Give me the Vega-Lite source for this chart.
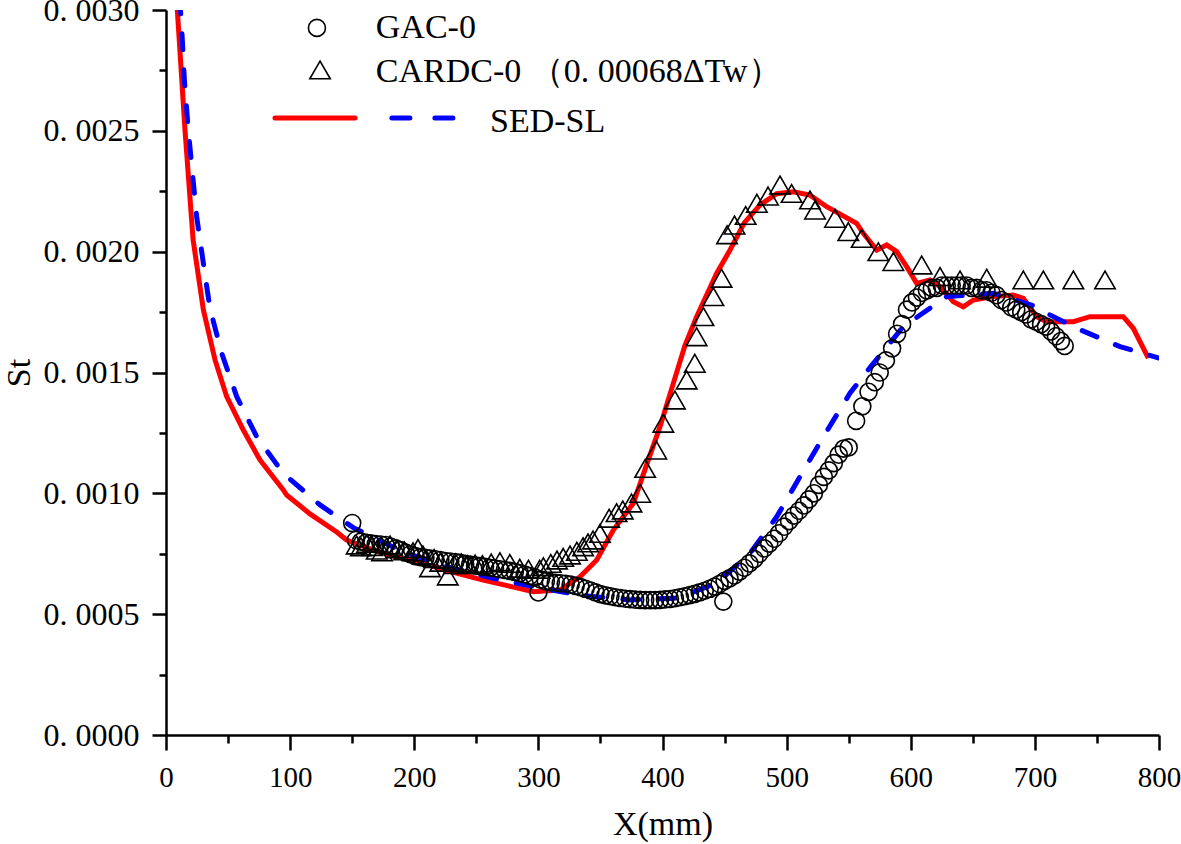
{
  "$schema": "https://vega.github.io/schema/vega-lite/v6.json",
  "width": 993,
  "height": 725,
  "autosize": "none",
  "padding": {"left": 166, "top": 10, "right": 22, "bottom": 109},
  "background": "white",
  "config": {"view": {"stroke": null}},
  "datasets": {
    "red": [
      {"x": 8.5, "y": 0.00305}, {"x": 15.3, "y": 0.002503}, {"x": 21.8, "y": 0.00205}, {"x": 30.1, "y": 0.001759},
      {"x": 39.5, "y": 0.001552}, {"x": 48.9, "y": 0.0014}, {"x": 62.3, "y": 0.001262}, {"x": 75.7, "y": 0.001138},
      {"x": 94.5, "y": 0.001014}, {"x": 97.2, "y": 0.000993}, {"x": 116, "y": 0.000915}, {"x": 137.5, "y": 0.00084},
      {"x": 145.5, "y": 0.000807}, {"x": 170, "y": 0.00076}, {"x": 202, "y": 0.000717}, {"x": 230, "y": 0.000675},
      {"x": 255.6, "y": 0.000641}, {"x": 280, "y": 0.000612}, {"x": 295.9, "y": 0.000593}, {"x": 317.4, "y": 0.0006},
      {"x": 333.5, "y": 0.000655}, {"x": 347, "y": 0.000724}, {"x": 360.4, "y": 0.000848}, {"x": 376.5, "y": 0.000959},
      {"x": 387.3, "y": 0.00112}, {"x": 398, "y": 0.001276}, {"x": 408.7, "y": 0.001455}, {"x": 418, "y": 0.00161},
      {"x": 427.5, "y": 0.001731}, {"x": 443.6, "y": 0.00191}, {"x": 454.4, "y": 0.002007}, {"x": 466, "y": 0.00212},
      {"x": 478.5, "y": 0.002193}, {"x": 492, "y": 0.00224}, {"x": 505.4, "y": 0.002248}, {"x": 518.8, "y": 0.002234},
      {"x": 532.3, "y": 0.002186}, {"x": 556.4, "y": 0.002117}, {"x": 561.8, "y": 0.002076}, {"x": 572.6, "y": 0.002007},
      {"x": 580.6, "y": 0.002028}, {"x": 588.7, "y": 0.002}, {"x": 596.7, "y": 0.001938}, {"x": 604.8, "y": 0.001869},
      {"x": 615.5, "y": 0.001883}, {"x": 623.6, "y": 0.001855}, {"x": 634.3, "y": 0.001793}, {"x": 642.3, "y": 0.001772},
      {"x": 650.4, "y": 0.0018}, {"x": 666.5, "y": 0.001814}, {"x": 682.6, "y": 0.001821}, {"x": 690.7, "y": 0.001807},
      {"x": 701.5, "y": 0.001731}, {"x": 709.5, "y": 0.00171}, {"x": 731, "y": 0.00171}, {"x": 744.4, "y": 0.001731},
      {"x": 771.2, "y": 0.001731}, {"x": 779.3, "y": 0.001683}, {"x": 791.4, "y": 0.001559}
    ],
    "blue": [
      {"x": 11, "y": 0.00305}, {"x": 12.6, "y": 0.00293}, {"x": 14.8, "y": 0.00271}, {"x": 18, "y": 0.0025},
      {"x": 24.7, "y": 0.002145}, {"x": 30.1, "y": 0.001952}, {"x": 35.4, "y": 0.001766}, {"x": 44.9, "y": 0.001579},
      {"x": 57, "y": 0.0014}, {"x": 73.1, "y": 0.001234}, {"x": 94.5, "y": 0.001083}, {"x": 124.1, "y": 0.000952},
      {"x": 150.9, "y": 0.000858}, {"x": 191.2, "y": 0.000758}, {"x": 226.1, "y": 0.000696}, {"x": 263.7, "y": 0.000648},
      {"x": 298.7, "y": 0.000611}, {"x": 336.2, "y": 0.000577}, {"x": 373.8, "y": 0.000559}, {"x": 411.4, "y": 0.000566},
      {"x": 443.6, "y": 0.000628}, {"x": 470.5, "y": 0.000752}, {"x": 492, "y": 0.000903}, {"x": 510.8, "y": 0.001069},
      {"x": 529.6, "y": 0.001234}, {"x": 551, "y": 0.001414}, {"x": 567.7, "y": 0.001524}, {"x": 594, "y": 0.00169},
      {"x": 629, "y": 0.001814}, {"x": 666.5, "y": 0.001828}, {"x": 701.5, "y": 0.001772}, {"x": 709.5, "y": 0.001745},
      {"x": 733.7, "y": 0.001683}, {"x": 768.6, "y": 0.001607}, {"x": 800, "y": 0.00156}
    ],
    "gac": [
      {"x": 150, "y": 0.000877}, {"x": 153, "y": 0.000807}, {"x": 157, "y": 0.0008}, {"x": 161, "y": 0.000795},
      {"x": 165, "y": 0.000793}, {"x": 169, "y": 0.00079}, {"x": 173, "y": 0.000788}, {"x": 177, "y": 0.000786},
      {"x": 181, "y": 0.00078}, {"x": 185, "y": 0.000772}, {"x": 189, "y": 0.000765}, {"x": 193, "y": 0.000755},
      {"x": 197, "y": 0.000748}, {"x": 201, "y": 0.00074}, {"x": 205, "y": 0.000736}, {"x": 209, "y": 0.000733},
      {"x": 213, "y": 0.00073}, {"x": 217, "y": 0.000727}, {"x": 221, "y": 0.000724}, {"x": 225, "y": 0.00072},
      {"x": 229, "y": 0.000718}, {"x": 233, "y": 0.000716}, {"x": 237, "y": 0.000712}, {"x": 241, "y": 0.000708},
      {"x": 245, "y": 0.000705}, {"x": 249, "y": 0.000702}, {"x": 253, "y": 0.000699}, {"x": 257, "y": 0.000696},
      {"x": 261, "y": 0.000692}, {"x": 265, "y": 0.000689}, {"x": 269, "y": 0.000686}, {"x": 273, "y": 0.000683},
      {"x": 277, "y": 0.000679}, {"x": 281, "y": 0.000675}, {"x": 285, "y": 0.00067}, {"x": 289, "y": 0.000664},
      {"x": 293, "y": 0.000658}, {"x": 297, "y": 0.000652}, {"x": 300, "y": 0.00059}, {"x": 302, "y": 0.000643},
      {"x": 306, "y": 0.000636}, {"x": 310, "y": 0.000632}, {"x": 314, "y": 0.00063}, {"x": 318, "y": 0.000628},
      {"x": 322, "y": 0.000626}, {"x": 326, "y": 0.000622}, {"x": 330, "y": 0.000617}, {"x": 334, "y": 0.000612},
      {"x": 338, "y": 0.000605}, {"x": 342, "y": 0.000598}, {"x": 346, "y": 0.00059}, {"x": 350, "y": 0.000583},
      {"x": 354, "y": 0.000578}, {"x": 358, "y": 0.000574}, {"x": 362, "y": 0.00057}, {"x": 366, "y": 0.000567},
      {"x": 370, "y": 0.000564}, {"x": 374, "y": 0.000562}, {"x": 378, "y": 0.00056}, {"x": 382, "y": 0.000559},
      {"x": 386, "y": 0.000558}, {"x": 390, "y": 0.000558}, {"x": 394, "y": 0.000558}, {"x": 398, "y": 0.000559},
      {"x": 402, "y": 0.000561}, {"x": 406, "y": 0.000563}, {"x": 410, "y": 0.000566}, {"x": 414, "y": 0.00057},
      {"x": 418, "y": 0.000574}, {"x": 422, "y": 0.000579}, {"x": 426, "y": 0.000584}, {"x": 430, "y": 0.00059},
      {"x": 434, "y": 0.000597}, {"x": 438, "y": 0.000605}, {"x": 442, "y": 0.000614}, {"x": 446, "y": 0.000625},
      {"x": 449, "y": 0.000552}, {"x": 450, "y": 0.000638}, {"x": 454, "y": 0.000648}, {"x": 458, "y": 0.00066},
      {"x": 462, "y": 0.000676}, {"x": 466, "y": 0.000692}, {"x": 470, "y": 0.00071}, {"x": 474, "y": 0.000728},
      {"x": 478, "y": 0.00075}, {"x": 482, "y": 0.000772}, {"x": 486, "y": 0.000792}, {"x": 490, "y": 0.000812},
      {"x": 494, "y": 0.000835}, {"x": 498, "y": 0.000862}, {"x": 502, "y": 0.000885}, {"x": 506, "y": 0.000908},
      {"x": 510, "y": 0.000928}, {"x": 514, "y": 0.00095}, {"x": 518, "y": 0.000975}, {"x": 522, "y": 0.001},
      {"x": 526, "y": 0.001035}, {"x": 530, "y": 0.001068}, {"x": 534, "y": 0.001095}, {"x": 538, "y": 0.001125},
      {"x": 542, "y": 0.00116}, {"x": 546, "y": 0.001185}, {"x": 550, "y": 0.00119}, {"x": 556, "y": 0.0013},
      {"x": 561, "y": 0.00136}, {"x": 566, "y": 0.00142}, {"x": 571, "y": 0.00146}, {"x": 575, "y": 0.0015},
      {"x": 580, "y": 0.00155}, {"x": 585, "y": 0.0016}, {"x": 589, "y": 0.00166}, {"x": 593, "y": 0.0017},
      {"x": 597, "y": 0.00176}, {"x": 601, "y": 0.00179}, {"x": 605, "y": 0.00181}, {"x": 609, "y": 0.00183},
      {"x": 613, "y": 0.00184}, {"x": 617, "y": 0.00185}, {"x": 621, "y": 0.00185}, {"x": 625, "y": 0.00186},
      {"x": 629, "y": 0.00186}, {"x": 633, "y": 0.00186}, {"x": 637, "y": 0.00186}, {"x": 641, "y": 0.00186},
      {"x": 645, "y": 0.00186}, {"x": 649, "y": 0.00185}, {"x": 653, "y": 0.00185}, {"x": 657, "y": 0.00184},
      {"x": 661, "y": 0.00184}, {"x": 665, "y": 0.00183}, {"x": 669, "y": 0.00182}, {"x": 673, "y": 0.0018},
      {"x": 677, "y": 0.00179}, {"x": 681, "y": 0.00177}, {"x": 685, "y": 0.00176}, {"x": 689, "y": 0.00175},
      {"x": 693, "y": 0.00174}, {"x": 697, "y": 0.00172}, {"x": 701, "y": 0.00171}, {"x": 705, "y": 0.0017},
      {"x": 709, "y": 0.00169}, {"x": 713, "y": 0.00167}, {"x": 717, "y": 0.00165}, {"x": 721, "y": 0.00163},
      {"x": 724, "y": 0.00161}
    ],
    "cardc": [
      {"x": 153.6, "y": 0.000786}, {"x": 157, "y": 0.000779}, {"x": 162, "y": 0.000793}, {"x": 166, "y": 0.00078},
      {"x": 169.8, "y": 0.000765}, {"x": 174, "y": 0.000758}, {"x": 180.5, "y": 0.000786}, {"x": 186, "y": 0.00077},
      {"x": 192, "y": 0.000762}, {"x": 199, "y": 0.000758}, {"x": 203, "y": 0.000772}, {"x": 207, "y": 0.000745},
      {"x": 212.7, "y": 0.000692}, {"x": 216, "y": 0.00073}, {"x": 221, "y": 0.000715}, {"x": 227, "y": 0.000658},
      {"x": 232, "y": 0.000705}, {"x": 238, "y": 0.000712}, {"x": 243, "y": 0.000705}, {"x": 249, "y": 0.000708},
      {"x": 255, "y": 0.000705}, {"x": 262, "y": 0.000712}, {"x": 269, "y": 0.000717}, {"x": 277, "y": 0.00071},
      {"x": 285, "y": 0.00069}, {"x": 292, "y": 0.000686}, {"x": 301, "y": 0.000686}, {"x": 304, "y": 0.000696},
      {"x": 310, "y": 0.00071}, {"x": 315, "y": 0.000724}, {"x": 320, "y": 0.000735}, {"x": 325.5, "y": 0.000745},
      {"x": 331, "y": 0.00076}, {"x": 336, "y": 0.000779}, {"x": 340, "y": 0.000795}, {"x": 344, "y": 0.000807},
      {"x": 349.6, "y": 0.000834}, {"x": 357, "y": 0.000897}, {"x": 363, "y": 0.00092}, {"x": 368, "y": 0.000931},
      {"x": 375, "y": 0.00096}, {"x": 382, "y": 0.001}, {"x": 386, "y": 0.001103}, {"x": 395, "y": 0.001179},
      {"x": 400.7, "y": 0.00129}, {"x": 410, "y": 0.001386}, {"x": 419.5, "y": 0.001469}, {"x": 426, "y": 0.001538},
      {"x": 427.5, "y": 0.001648}, {"x": 433, "y": 0.001731}, {"x": 441, "y": 0.001814}, {"x": 447.6, "y": 0.00189},
      {"x": 452, "y": 0.00207}, {"x": 458, "y": 0.00211}, {"x": 467, "y": 0.00215}, {"x": 476, "y": 0.0022},
      {"x": 485, "y": 0.00223}, {"x": 494.7, "y": 0.002276}, {"x": 504, "y": 0.002241}, {"x": 518.8, "y": 0.002214},
      {"x": 522.9, "y": 0.002172}, {"x": 539, "y": 0.002138}, {"x": 549.7, "y": 0.002083}, {"x": 560.5, "y": 0.002055},
      {"x": 573.9, "y": 0.002}, {"x": 586, "y": 0.001959}, {"x": 608.8, "y": 0.001945}, {"x": 623.6, "y": 0.001897},
      {"x": 639.7, "y": 0.001883}, {"x": 661.2, "y": 0.00189}, {"x": 690.7, "y": 0.001883}, {"x": 706.8, "y": 0.001883},
      {"x": 731, "y": 0.001883}, {"x": 756.5, "y": 0.001883}
    ],
    "legRed": [{"x": 87.8, "y": 0.002553}, {"x": 152.3, "y": 0.002553}],
    "legBlue": [{"x": 182, "y": 0.002553}, {"x": 236, "y": 0.002553}],
    "legCircle": [{"x": 121.6, "y": 0.002926}],
    "legTri": [{"x": 124.1, "y": 0.002752}],
    "legText": [
      {"x": 169, "y": 0.002926, "label": "GAC-0"},
      {"x": 169, "y": 0.002745, "label": "CARDC-0 （0. 00068ΔTw）"},
      {"x": 261, "y": 0.002535, "label": "SED-SL"}
    ]
  },
  "layer": [
    {
      "data": {"name": "red"},
      "mark": {"type": "line", "color": "#ff0000", "strokeWidth": 5, "clip": true},
      "encoding": {
        "x": {
          "field": "x", "type": "quantitative",
          "scale": {"domain": [0, 800], "nice": false, "zero": false},
          "axis": {
            "title": "X(mm)",
            "values": [0, 50, 100, 150, 200, 250, 300, 350, 400, 450, 500, 550, 600, 650, 700, 750, 800],
            "labelExpr": "datum.value % 100 == 0 ? format(datum.value, 'd') : ''",
            "tickSize": {"condition": {"test": "datum.value % 100 == 0", "value": 15}, "value": 8},
            "tickWidth": 2.5, "tickColor": "black", "domainWidth": 2.5, "domainColor": "black",
            "grid": false, "labelFont": "Liberation Serif", "labelFontSize": 29, "labelColor": "black",
            "labelPadding": 13, "labelFlush": false, "labelOverlap": false,
            "titleFont": "Liberation Serif", "titleFontSize": 34, "titleFontWeight": "normal", "titleColor": "black", "titlePadding": 15
          }
        },
        "y": {
          "field": "y", "type": "quantitative",
          "scale": {"domain": [0, 0.003], "nice": false, "zero": false},
          "axis": {
            "title": "St",
            "values": [0, 0.00025, 0.0005, 0.00075, 0.001, 0.00125, 0.0015, 0.00175, 0.002, 0.00225, 0.0025, 0.00275, 0.003],
            "labelExpr": "abs(datum.value*2000 - round(datum.value*2000)) < 0.001 ? replace(format(datum.value, '.4f'), '.', '. ') : ''",
            "tickSize": {"condition": {"test": "abs(datum.value*2000 - round(datum.value*2000)) < 0.001", "value": 14}, "value": 7},
            "tickWidth": 2.5, "tickColor": "black", "domainWidth": 2.5, "domainColor": "black",
            "grid": false, "labelFont": "Liberation Serif", "labelFontSize": 32, "labelColor": "black",
            "labelPadding": 13, "labelFlush": false, "labelOverlap": false,
            "titleFont": "Liberation Serif", "titleFontSize": 34, "titleFontWeight": "normal", "titleColor": "black", "titlePadding": 7
          }
        }
      }
    },
    {
      "data": {"name": "blue"},
      "mark": {"type": "line", "color": "#0000ff", "strokeWidth": 5, "strokeDash": [16, 20], "strokeCap": "round", "clip": true},
      "encoding": {"x": {"field": "x", "type": "quantitative"}, "y": {"field": "y", "type": "quantitative"}}
    },
    {
      "data": {"name": "gac"},
      "mark": {"type": "point", "shape": "circle", "filled": false, "stroke": "black", "strokeWidth": 1.6, "size": 290, "opacity": 1},
      "encoding": {"x": {"field": "x", "type": "quantitative"}, "y": {"field": "y", "type": "quantitative"}}
    },
    {
      "data": {"name": "cardc"},
      "mark": {"type": "point", "shape": "triangle-up", "filled": false, "stroke": "black", "strokeWidth": 1.6, "size": 420, "opacity": 1},
      "encoding": {"x": {"field": "x", "type": "quantitative"}, "y": {"field": "y", "type": "quantitative"}}
    },
    {
      "data": {"name": "legRed"},
      "mark": {"type": "line", "color": "#ff0000", "strokeWidth": 5, "strokeCap": "round"},
      "encoding": {"x": {"field": "x", "type": "quantitative"}, "y": {"field": "y", "type": "quantitative"}}
    },
    {
      "data": {"name": "legBlue"},
      "mark": {"type": "line", "color": "#0000ff", "strokeWidth": 5, "strokeDash": [18, 25], "strokeCap": "round"},
      "encoding": {"x": {"field": "x", "type": "quantitative"}, "y": {"field": "y", "type": "quantitative"}}
    },
    {
      "data": {"name": "legCircle"},
      "mark": {"type": "point", "shape": "circle", "filled": false, "stroke": "black", "strokeWidth": 1.6, "size": 290, "opacity": 1},
      "encoding": {"x": {"field": "x", "type": "quantitative"}, "y": {"field": "y", "type": "quantitative"}}
    },
    {
      "data": {"name": "legTri"},
      "mark": {"type": "point", "shape": "triangle-up", "filled": false, "stroke": "black", "strokeWidth": 1.6, "size": 420, "opacity": 1},
      "encoding": {"x": {"field": "x", "type": "quantitative"}, "y": {"field": "y", "type": "quantitative"}}
    },
    {
      "data": {"name": "legText"},
      "mark": {"type": "text", "align": "left", "baseline": "middle", "font": "Liberation Serif", "fontSize": 34, "color": "black"},
      "encoding": {"x": {"field": "x", "type": "quantitative"}, "y": {"field": "y", "type": "quantitative"}, "text": {"field": "label"}}
    }
  ]
}
